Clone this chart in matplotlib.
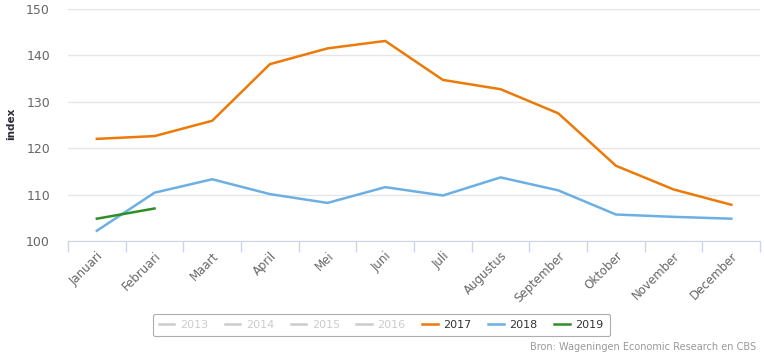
import matplotlib.pyplot as plt
from matplotlib.lines import Line2D

maanden = ['Januari', 'Februari', 'Maart', 'April', 'Mei', 'Juni', 'Juli',
           'Augustus', 'September', 'Oktober', 'November', 'December']
idx_2017 = [122.0, 122.6, 125.9, 138.1, 141.5, 143.1, 134.7, 132.7, 127.5, 116.2, 111.1, 107.8]
idx_2018 = [102.2, 110.4, 113.3, 110.1, 108.2, 111.6, 109.8, 113.7, 110.9, 105.7, 105.2, 104.8]
idx_2019 = [104.8, 107.0]
verborgen_jaren = ['2013', '2014', '2015', '2016']  # in de legenda uitgezet

kleuren = {'2017': '#ec7a08', '2018': '#6cb0e3', '2019': '#2f8f27'}

fig = plt.figure(figsize=(7.64, 3.57), dpi=100)
ax = fig.add_axes([0.089, 0.325, 0.906, 0.65])

x = range(len(maanden))
ax.plot(x, idx_2017, color=kleuren['2017'], lw=1.8)
ax.plot(x, idx_2018, color=kleuren['2018'], lw=1.8)
ax.plot(range(len(idx_2019)), idx_2019, color=kleuren['2019'], lw=1.8)

ax.set_xlim(-0.5, len(maanden) - 0.5)
ax.set_ylim(100, 150)
ax.set_yticks([100, 110, 120, 130, 140, 150])
ax.grid(axis='y', color='#e6e6e6', lw=1)
ax.set_axisbelow(True)

for s in ['top', 'right', 'left']:
    ax.spines[s].set_visible(False)
ax.spines['bottom'].set_color('#ccd6eb')

# tickstreepjes tussen de categorieen, labels op het midden
ax.set_xticks([i - 0.5 for i in range(len(maanden) + 1)])
ax.set_xticklabels([])
ax.tick_params(axis='x', which='major', length=8, color='#ccd6eb', width=1)
ax.set_xticks(list(x), minor=True)
ax.set_xticklabels(maanden, minor=True, rotation=45, ha='right',
                   rotation_mode='anchor', fontsize=8.5, color='#666666')
ax.tick_params(axis='x', which='minor', length=0, pad=6)
ax.tick_params(axis='y', length=0, pad=13, labelsize=9, labelcolor='#666666')

# as-titel los geplaatst zodat hij niet van de rand valt
fig.text(0.014, 0.652, 'index', rotation=90, ha='center', va='center',
         fontsize=7.5, fontweight='bold', color='#2b2b3b')

handles = [Line2D([], [], color='#cccccc', lw=1.8) for _ in verborgen_jaren]
handles += [Line2D([], [], color=kleuren[j], lw=1.8) for j in ['2017', '2018', '2019']]
labels = verborgen_jaren + ['2017', '2018', '2019']
leg = fig.legend(handles, labels, loc='center', bbox_to_anchor=(0.499, 0.09),
                 ncol=7, fontsize=8, frameon=True, fancybox=True,
                 edgecolor='#999999', handlelength=1.4, columnspacing=1.5,
                 handletextpad=0.5, borderpad=0.55)
leg.get_frame().set_linewidth(0.8)
for t, l in zip(leg.get_texts(), labels):
    t.set_color('#cccccc' if l in verborgen_jaren else '#333333')

fig.text(0.99, 0.027, 'Bron: Wageningen Economic Research en CBS',
         ha='right', va='center', fontsize=7, color='#999999')

fig.savefig('out.png', dpi=100)
